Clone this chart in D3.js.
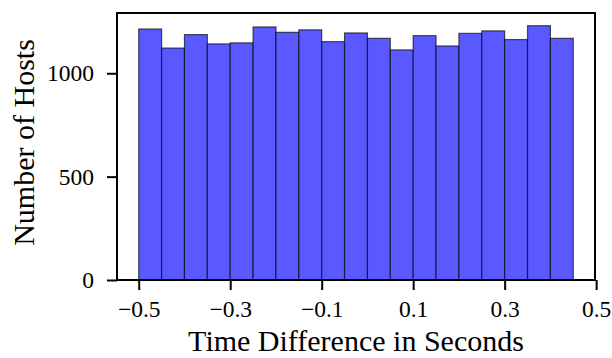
<!DOCTYPE html>
<html>
<head>
<meta charset="utf-8">
<script src="https://cdn.jsdelivr.net/npm/d3@7"></script>
<style>
  body { margin: 0; background: #fff; }
  text { font-family: "Liberation Serif", "DejaVu Serif", serif; }
</style>
</head>
<body>
<svg id="chart"></svg>
<script>
// histogram bins (left edge, seconds) and host counts
const binStarts = [-0.5, -0.45, -0.4, -0.35, -0.3, -0.25, -0.2, -0.15, -0.1, -0.05,
                   0.0, 0.05, 0.1, 0.15, 0.2, 0.25, 0.3, 0.35, 0.4]
const binWidth = 0.05
const counts = [1214, 1122, 1187, 1142, 1147, 1224, 1198, 1210, 1153, 1195,
                1169, 1113, 1182, 1132, 1193, 1205, 1163, 1230, 1169]
const xTicks = [-0.5, -0.3, -0.1, 0.1, 0.3, 0.5]
const yTicks = [0, 500, 1000]

const width = 612, height = 358
const margin = { top: 13, right: 17, bottom: 78, left: 117 }

const svg = d3.select("#chart")
  .attr("width", width)
  .attr("height", height)

const xMin = binStarts[0], xMax = binStarts[binStarts.length - 1] + binWidth
const pad = (xMax - xMin) * 0.05
const x = d3.scaleLinear()
  .domain([xMin - pad, xMax + pad])
  .range([margin.left, width - margin.right])

const y = d3.scaleLinear()
  .domain([0, d3.max(counts) * 1.05])
  .range([height - margin.bottom, margin.top])

const bins = binStarts.map((s, i) => ({ x0: s, x1: s + binWidth, n: counts[i] }))

svg.append("g")
  .selectAll("rect")
  .data(bins)
  .join("rect")
  .attr("x", d => x(d.x0))
  .attr("y", d => y(d.n))
  .attr("width", d => x(d.x1) - x(d.x0))
  .attr("height", d => y(0) - y(d.n))
  .attr("fill", "rgb(89,89,255)")
  .attr("stroke", "black")
  .attr("stroke-opacity", 0.65)
  .attr("stroke-width", 1.2)

const fmt = d => (d < 0 ? "\u2212" : "") + Math.abs(d)

const xAxis = svg.append("g")
  .attr("transform", `translate(0,${height - margin.bottom})`)
  .call(d3.axisBottom(x).tickValues(xTicks).tickFormat(fmt).tickSize(10).tickPadding(10))
const yAxis = svg.append("g")
  .attr("transform", `translate(${margin.left},0)`)
  .call(d3.axisLeft(y).tickValues(yTicks).tickFormat(d3.format("d")).tickSize(10).tickPadding(13))

for (const ax of [xAxis, yAxis]) {
  ax.select(".domain").remove()
  ax.selectAll(".tick line").attr("stroke", "black").attr("stroke-width", 2)
  ax.selectAll(".tick text")
    .attr("fill", "black")
    .style("font-size", "23.5px")
    .style("font-family", "'Liberation Serif', serif")
}

// frame
svg.append("rect")
  .attr("x", margin.left)
  .attr("y", margin.top)
  .attr("width", width - margin.left - margin.right)
  .attr("height", height - margin.top - margin.bottom)
  .attr("fill", "none")
  .attr("stroke", "black")
  .attr("stroke-width", 2)

svg.append("text")
  .attr("x", (margin.left + width - margin.right) / 2)
  .attr("y", 351)
  .attr("text-anchor", "middle")
  .style("font-size", "30px")
  .text("Time Difference in Seconds")

svg.append("text")
  .attr("transform", `translate(34,${(margin.top + height - margin.bottom) / 2 - 4}) rotate(-90)`)
  .attr("text-anchor", "middle")
  .style("font-size", "30px")
  .text("Number of Hosts")
</script>
</body>
</html>
